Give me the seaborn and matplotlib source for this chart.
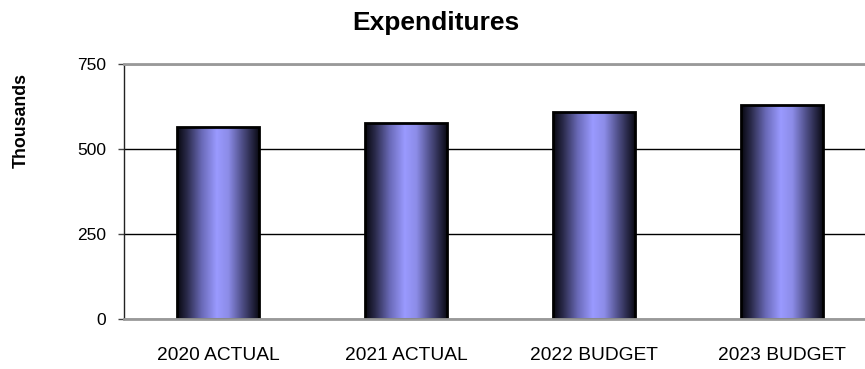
import numpy as np
import pandas as pd
import matplotlib
matplotlib.use("Agg")
import matplotlib.pyplot as plt
from matplotlib.colors import LinearSegmentedColormap
import seaborn as sns

categories = ["2020 ACTUAL", "2021 ACTUAL", "2022 BUDGET", "2023 BUDGET"]
values = [565, 576, 609, 629]
y_ticks = [0, 250, 500, 750]
title = "Expenditures"
y_label = "Thousands"

sns.set_theme(style="white")
plt.rcParams["font.family"] = ["Liberation Sans", "DejaVu Sans"]

df = pd.DataFrame({"cat": categories, "val": values})

fig = plt.figure(figsize=(8.65, 3.69), dpi=100)
ax = fig.add_axes([124/865, 1-319/369, 752/865, 255/369])

sns.barplot(data=df, x="cat", y="val", ax=ax, width=0.44,
            color="#9999ff", edgecolor="black", linewidth=2.0, zorder=3)

cmap = LinearSegmentedColormap.from_list("bar", [
    (0.0, "#07070f"), (0.12, "#2a2a4a"), (0.3, "#6a6ab8"),
    (0.48, "#9a9aff"), (0.62, "#8c8ce8"), (0.8, "#4a4a80"),
    (1.0, "#07070f")])
grad = np.linspace(0, 1, 256).reshape(1, -1)
for p in ax.patches:
    x0, y0 = p.get_x(), p.get_y()
    w, h = p.get_width(), p.get_height()
    im = ax.imshow(grad, cmap=cmap, aspect="auto",
                   extent=[x0, x0 + w, y0, y0 + h], zorder=2.9,
                   interpolation="bilinear")
    im.set_clip_path(p)
    p.set_facecolor("none")

ax.set_xlim(-0.5, 3.5)
ax.set_ylim(0, 750)
ax.set_yticks(y_ticks)
ax.set_yticklabels([str(t) for t in y_ticks])
ax.grid(axis="y", color="black", linewidth=1.0)
ax.grid(axis="x", visible=False)
ax.set_axisbelow(True)

for s in ["top", "bottom", "right"]:
    ax.spines[s].set_color("#999999")
    ax.spines[s].set_linewidth(2.0)
    ax.spines[s].set_zorder(4)
ax.spines["left"].set_color("#222222")
ax.spines["left"].set_linewidth(1.0)

ax.tick_params(axis="y", which="major", left=True, length=4, width=1,
               color="#444444", pad=9, labelsize=12.5, labelcolor="black")
ax.tick_params(axis="x", bottom=False, pad=14, labelsize=13.8, labelcolor="black")
ax.set_xlabel("")
ax.set_ylabel("")

fig.text(436/865, 1-23/369, title, ha="center", va="center",
         fontsize=19, fontweight="bold", color="black")
fig.text(21/865, 1-120/369, y_label, ha="center", va="center",
         rotation=90, fontsize=12.8, fontweight="bold", color="black")

fig.savefig("out.png", dpi=100)
